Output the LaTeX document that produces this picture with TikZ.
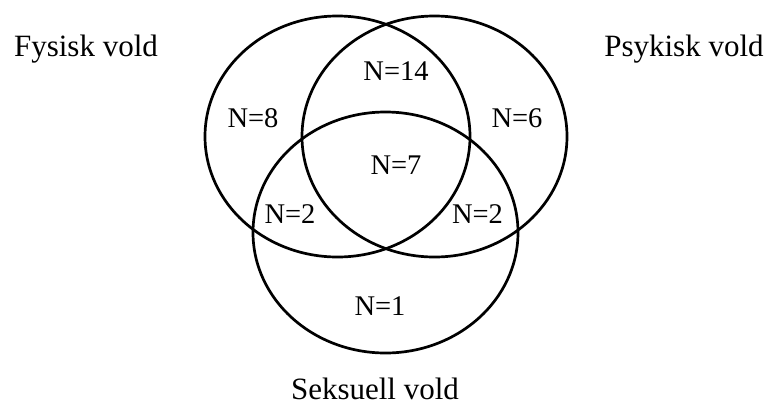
\documentclass[tikz,border=0pt]{standalone}
\usepackage{fontspec}
\setmainfont{Liberation Serif}
\begin{document}
\begin{tikzpicture}[x=1pt,y=-1pt,
  ring/.style={draw=black,line width=2.7pt},
  count/.style={font=\fontsize{28.5}{30}\selectfont,anchor=base,inner sep=0pt},
  setname/.style={font=\fontsize{31}{33}\selectfont,anchor=base,inner sep=0pt}]
\useasboundingbox (0,0) rectangle (771,405);
\path[ring] (337.5,136.5) ellipse [x radius=132.5, y radius=120.5];
\path[ring] (434.5,136.5) ellipse [x radius=132.5, y radius=120.5];
\path[ring] (385.5,232.5) ellipse [x radius=132.5, y radius=120.5];
\node[setname] (fys) at (86,56) {Fysisk vold};
\node[setname] (psy) at (684,56) {Psykisk vold};
\node[setname] (sek) at (375,399) {Seksuell vold};
\node[count] (n14) at (396,80) {N=14};
\node[count] (n8) at (253,127) {N=8};
\node[count] (n6) at (517,127) {N=6};
\node[count] (n7) at (396,174) {N=7};
\node[count] (n2a) at (290,223) {N=2};
\node[count] (n2b) at (477.5,223) {N=2};
\node[count] (n1) at (380,315) {N=1};
\end{tikzpicture}
\end{document}
